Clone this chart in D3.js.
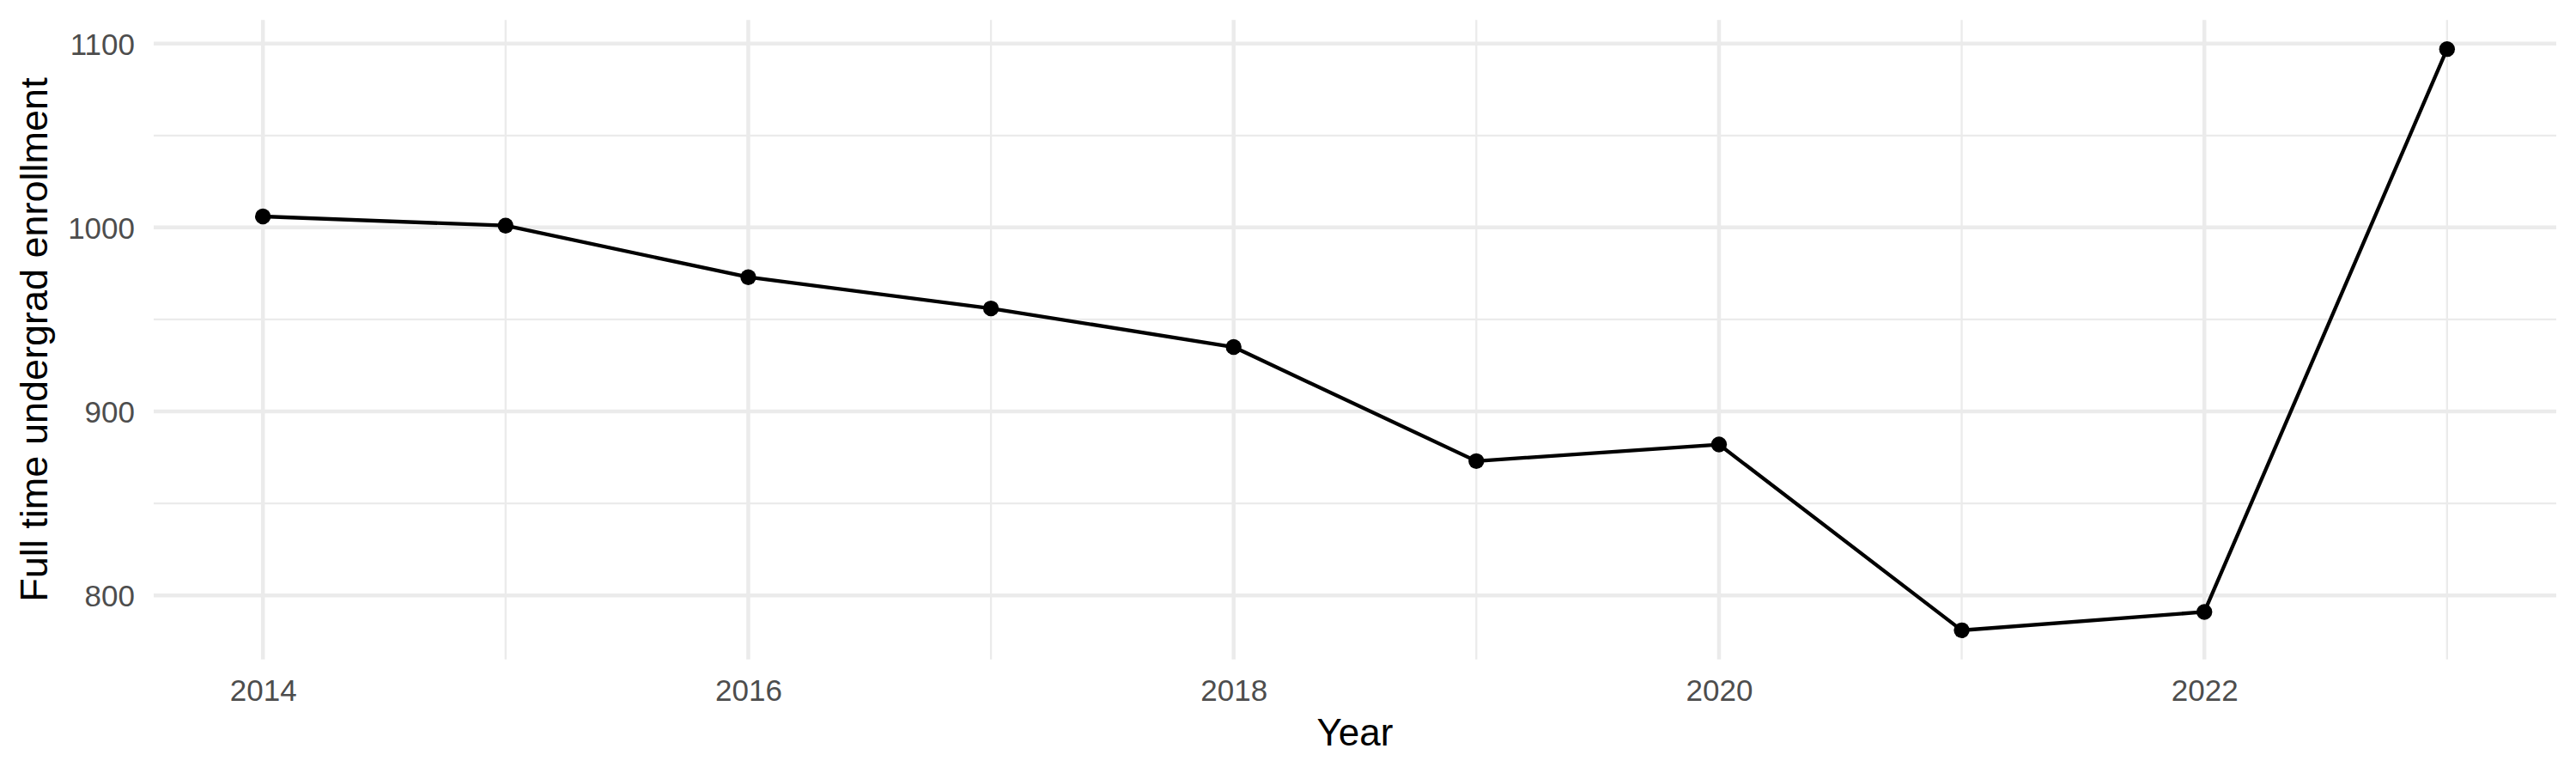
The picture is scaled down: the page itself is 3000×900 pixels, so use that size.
<!DOCTYPE html>
<html>
<head>
<meta charset="utf-8">
<script src="https://cdn.jsdelivr.net/npm/d3@7"></script>
<style>
  html, body { margin: 0; padding: 0; background: #ffffff; }
  svg { display: block; }
  text { font-family: "Liberation Sans", Arial, Helvetica, sans-serif; }
</style>
</head>
<body>
<svg id="chart" width="3000" height="900"></svg>
<script>
// ---- data ----
const years = [2014, 2015, 2016, 2017, 2018, 2019, 2020, 2021, 2022, 2023];
const enrollment = [1006, 1001, 973, 956, 935, 873, 882, 781, 791, 1097];
const xMajorTicks = [2014, 2016, 2018, 2020, 2022];
const xMinorTicks = [2015, 2017, 2019, 2021, 2023];
const yMajorTicks = [800, 900, 1000, 1100];
const yMinorTicks = [850, 950, 1050];
const xTitle = "Year";
const yTitle = "Full time undergrad enrollment";

// ---- layout ----
const W = 3000, H = 900;
const panel = { left: 179, right: 2977, top: 23.3, bottom: 767.7 };

const data = years.map((y, i) => ({ year: y, value: enrollment[i] }));

function expand(ext, f) {
  const r = ext[1] - ext[0];
  return [ext[0] - r * f, ext[1] + r * f];
}

const x = d3.scaleLinear()
  .domain(expand(d3.extent(years), 0.05))
  .range([panel.left, panel.right]);
const y = d3.scaleLinear()
  .domain(expand(d3.extent(enrollment), 0.05))
  .range([panel.bottom, panel.top]);

const svg = d3.select("#chart");
svg.append("rect").attr("width", W).attr("height", H).attr("fill", "#ffffff");

const grid = svg.append("g");
const gridColor = "#ebebeb";

// minor gridlines
grid.selectAll("line.ymin").data(yMinorTicks).join("line")
  .attr("x1", panel.left).attr("x2", panel.right)
  .attr("y1", d => y(d)).attr("y2", d => y(d))
  .attr("stroke", gridColor).attr("stroke-width", 2.3);
grid.selectAll("line.xmin").data(xMinorTicks).join("line")
  .attr("y1", panel.top).attr("y2", panel.bottom)
  .attr("x1", d => x(d)).attr("x2", d => x(d))
  .attr("stroke", gridColor).attr("stroke-width", 2.3);
// major gridlines
grid.selectAll("line.ymaj").data(yMajorTicks).join("line")
  .attr("x1", panel.left).attr("x2", panel.right)
  .attr("y1", d => y(d)).attr("y2", d => y(d))
  .attr("stroke", gridColor).attr("stroke-width", 4.5);
grid.selectAll("line.xmaj").data(xMajorTicks).join("line")
  .attr("y1", panel.top).attr("y2", panel.bottom)
  .attr("x1", d => x(d)).attr("x2", d => x(d))
  .attr("stroke", gridColor).attr("stroke-width", 4.5);

// axes (labels only)
const xAxis = svg.append("g")
  .attr("transform", `translate(0,${panel.bottom})`)
  .call(d3.axisBottom(x).tickValues(xMajorTicks).tickFormat(d3.format("d")).tickSize(0).tickPadding(20));
const yAxis = svg.append("g")
  .attr("transform", `translate(${panel.left},0)`)
  .call(d3.axisLeft(y).tickValues(yMajorTicks).tickFormat(d3.format("d")).tickSize(0).tickPadding(22));
[xAxis, yAxis].forEach(g => {
  g.select(".domain").remove();
  g.selectAll("text")
    .attr("fill", "#4d4d4d")
    .style("font-size", "35px")
    .style("font-family", '"Liberation Sans", Arial, Helvetica, sans-serif');
});
xAxis.selectAll("text").attr("dy", null).attr("y", 0).attr("dominant-baseline", null)
  .attr("transform", "translate(0,48)");
yAxis.selectAll("text").attr("dy", "0.36em");

// line
const line = d3.line().x(d => x(d.year)).y(d => y(d.value));
svg.append("path").datum(data)
  .attr("d", line)
  .attr("fill", "none")
  .attr("stroke", "#000000")
  .attr("stroke-width", 4.3)
  .attr("stroke-linejoin", "round");

// points
svg.append("g").selectAll("circle").data(data).join("circle")
  .attr("cx", d => x(d.year)).attr("cy", d => y(d.value))
  .attr("r", 9.2).attr("fill", "#000000");

// titles
svg.append("text")
  .attr("x", (panel.left + panel.right) / 2)
  .attr("y", 868)
  .attr("text-anchor", "middle")
  .attr("fill", "#000000")
  .style("font-size", "44px")
  .text(xTitle);

svg.append("text")
  .attr("transform", `translate(55,${(panel.top + panel.bottom) / 2}) rotate(-90)`)
  .attr("text-anchor", "middle")
  .attr("fill", "#000000")
  .style("font-size", "45px")
  .text(yTitle);
</script>
</body>
</html>
